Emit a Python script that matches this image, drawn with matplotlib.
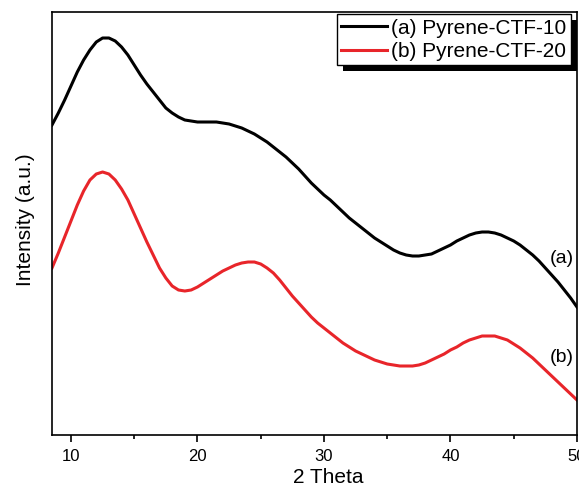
import matplotlib
matplotlib.use("Agg")
import matplotlib.pyplot as plt
from matplotlib.patches import Rectangle
from matplotlib.ticker import MultipleLocator

plt.rcParams['font.family'] = ['Liberation Sans', 'DejaVu Sans']

# 2 theta readings (deg), every half degree
theta = [8.5, 9.0, 9.5, 10.0, 10.5, 11.0, 11.5, 12.0, 12.5, 13.0, 13.5, 14.0,
         14.5, 15.0, 15.5, 16.0, 16.5, 17.0, 17.5, 18.0, 18.5, 19.0, 19.5, 20.0,
         20.5, 21.0, 21.5, 22.0, 22.5, 23.0, 23.5, 24.0, 24.5, 25.0, 25.5, 26.0,
         26.5, 27.0, 27.5, 28.0, 28.5, 29.0, 29.5, 30.0, 30.5, 31.0, 31.5, 32.0,
         32.5, 33.0, 33.5, 34.0, 34.5, 35.0, 35.5, 36.0, 36.5, 37.0, 37.5, 38.0,
         38.5, 39.0, 39.5, 40.0, 40.5, 41.0, 41.5, 42.0, 42.5, 43.0, 43.5, 44.0,
         44.5, 45.0, 45.5, 46.0, 46.5, 47.0, 47.5, 48.0, 48.5, 49.0, 49.5, 50.0]
ctf10 = [310, 322, 335, 349, 363, 375, 385, 393, 397, 397, 394, 388,
         380, 370, 360, 351, 343, 335, 327, 322, 318, 315, 314, 313,
         313, 313, 313, 312, 311, 309, 307, 304, 301, 297, 293, 288,
         283, 278, 272, 266, 259, 252, 246, 240, 235, 229, 223, 217,
         212, 207, 202, 197, 193, 189, 185, 182, 180, 179, 179, 180,
         181, 184, 187, 190, 194, 197, 200, 202, 203, 203, 202, 200,
         197, 194, 190, 185, 180, 174, 167, 160, 153, 145, 137, 128]
ctf20 = [167, 182, 198, 214, 230, 244, 255, 261, 263, 261, 255, 246,
         235, 221, 207, 193, 180, 167, 157, 149, 145, 144, 145, 148,
         152, 156, 160, 164, 167, 170, 172, 173, 173, 171, 167, 162,
         155, 147, 139, 132, 125, 118, 112, 107, 102, 97, 92, 88,
         84, 81, 78, 75, 73, 71, 70, 69, 69, 69, 70, 72,
         75, 78, 81, 85, 88, 92, 95, 97, 99, 99, 99, 97,
         95, 91, 87, 82, 77, 71, 65, 59, 53, 47, 41, 35]
labels = ['(a) Pyrene-CTF-10', '(b) Pyrene-CTF-20']

fig = plt.figure(figsize=(5.79, 4.88), dpi=100)
ax = fig.add_axes([0.0898, 0.1086, 0.9067, 0.8668])

ax.plot(theta, ctf10, color='black', lw=2.2, label=labels[0],
        solid_joinstyle='round')
ax.plot(theta, ctf20, color='#e8252a', lw=2.2, label=labels[1],
        solid_joinstyle='round')

ax.set_xlim(8.5, 50)
ax.set_ylim(0, 423)
ax.xaxis.set_major_locator(MultipleLocator(10))
ax.xaxis.set_minor_locator(MultipleLocator(5))
ax.tick_params(axis='x', which='major', direction='out', length=5, width=1.2,
               labelsize=12, pad=5)
ax.tick_params(axis='x', which='minor', direction='out', length=3, width=1.2)
ax.set_yticks([])
for s in ax.spines.values():
    s.set_linewidth(1.2)

ax.set_xlabel('2 Theta', fontsize=15)
ax.xaxis.set_label_coords(0.526, -0.078)
ax.set_ylabel('Intensity (a.u.)', fontsize=15)
ax.yaxis.set_label_coords(-0.033, 0.508)

ax.text(48.8, 177, '(a)', fontsize=14, ha='center', va='center')
ax.text(48.8, 78, '(b)', fontsize=14, ha='center', va='center')

leg = ax.legend(loc='upper right', bbox_to_anchor=(0.989, 0.995),
                fontsize=15, frameon=True, fancybox=False, framealpha=1,
                borderpad=0.22, handlelength=2.2, handletextpad=0.2,
                labelspacing=0.2, borderaxespad=0)
leg.get_frame().set_edgecolor('black')
leg.get_frame().set_linewidth(1.0)
leg.set_zorder(5)

fig.canvas.draw()
bb = leg.get_window_extent().transformed(ax.transAxes.inverted())
dx, dy = 6 / 525, 6 / 423
ax.add_patch(Rectangle((bb.x0 + dx, bb.y0 - dy), bb.width, bb.height,
                       transform=ax.transAxes, facecolor='black',
                       edgecolor='none', zorder=4, clip_on=False))

fig.savefig('out.png', dpi=100)
